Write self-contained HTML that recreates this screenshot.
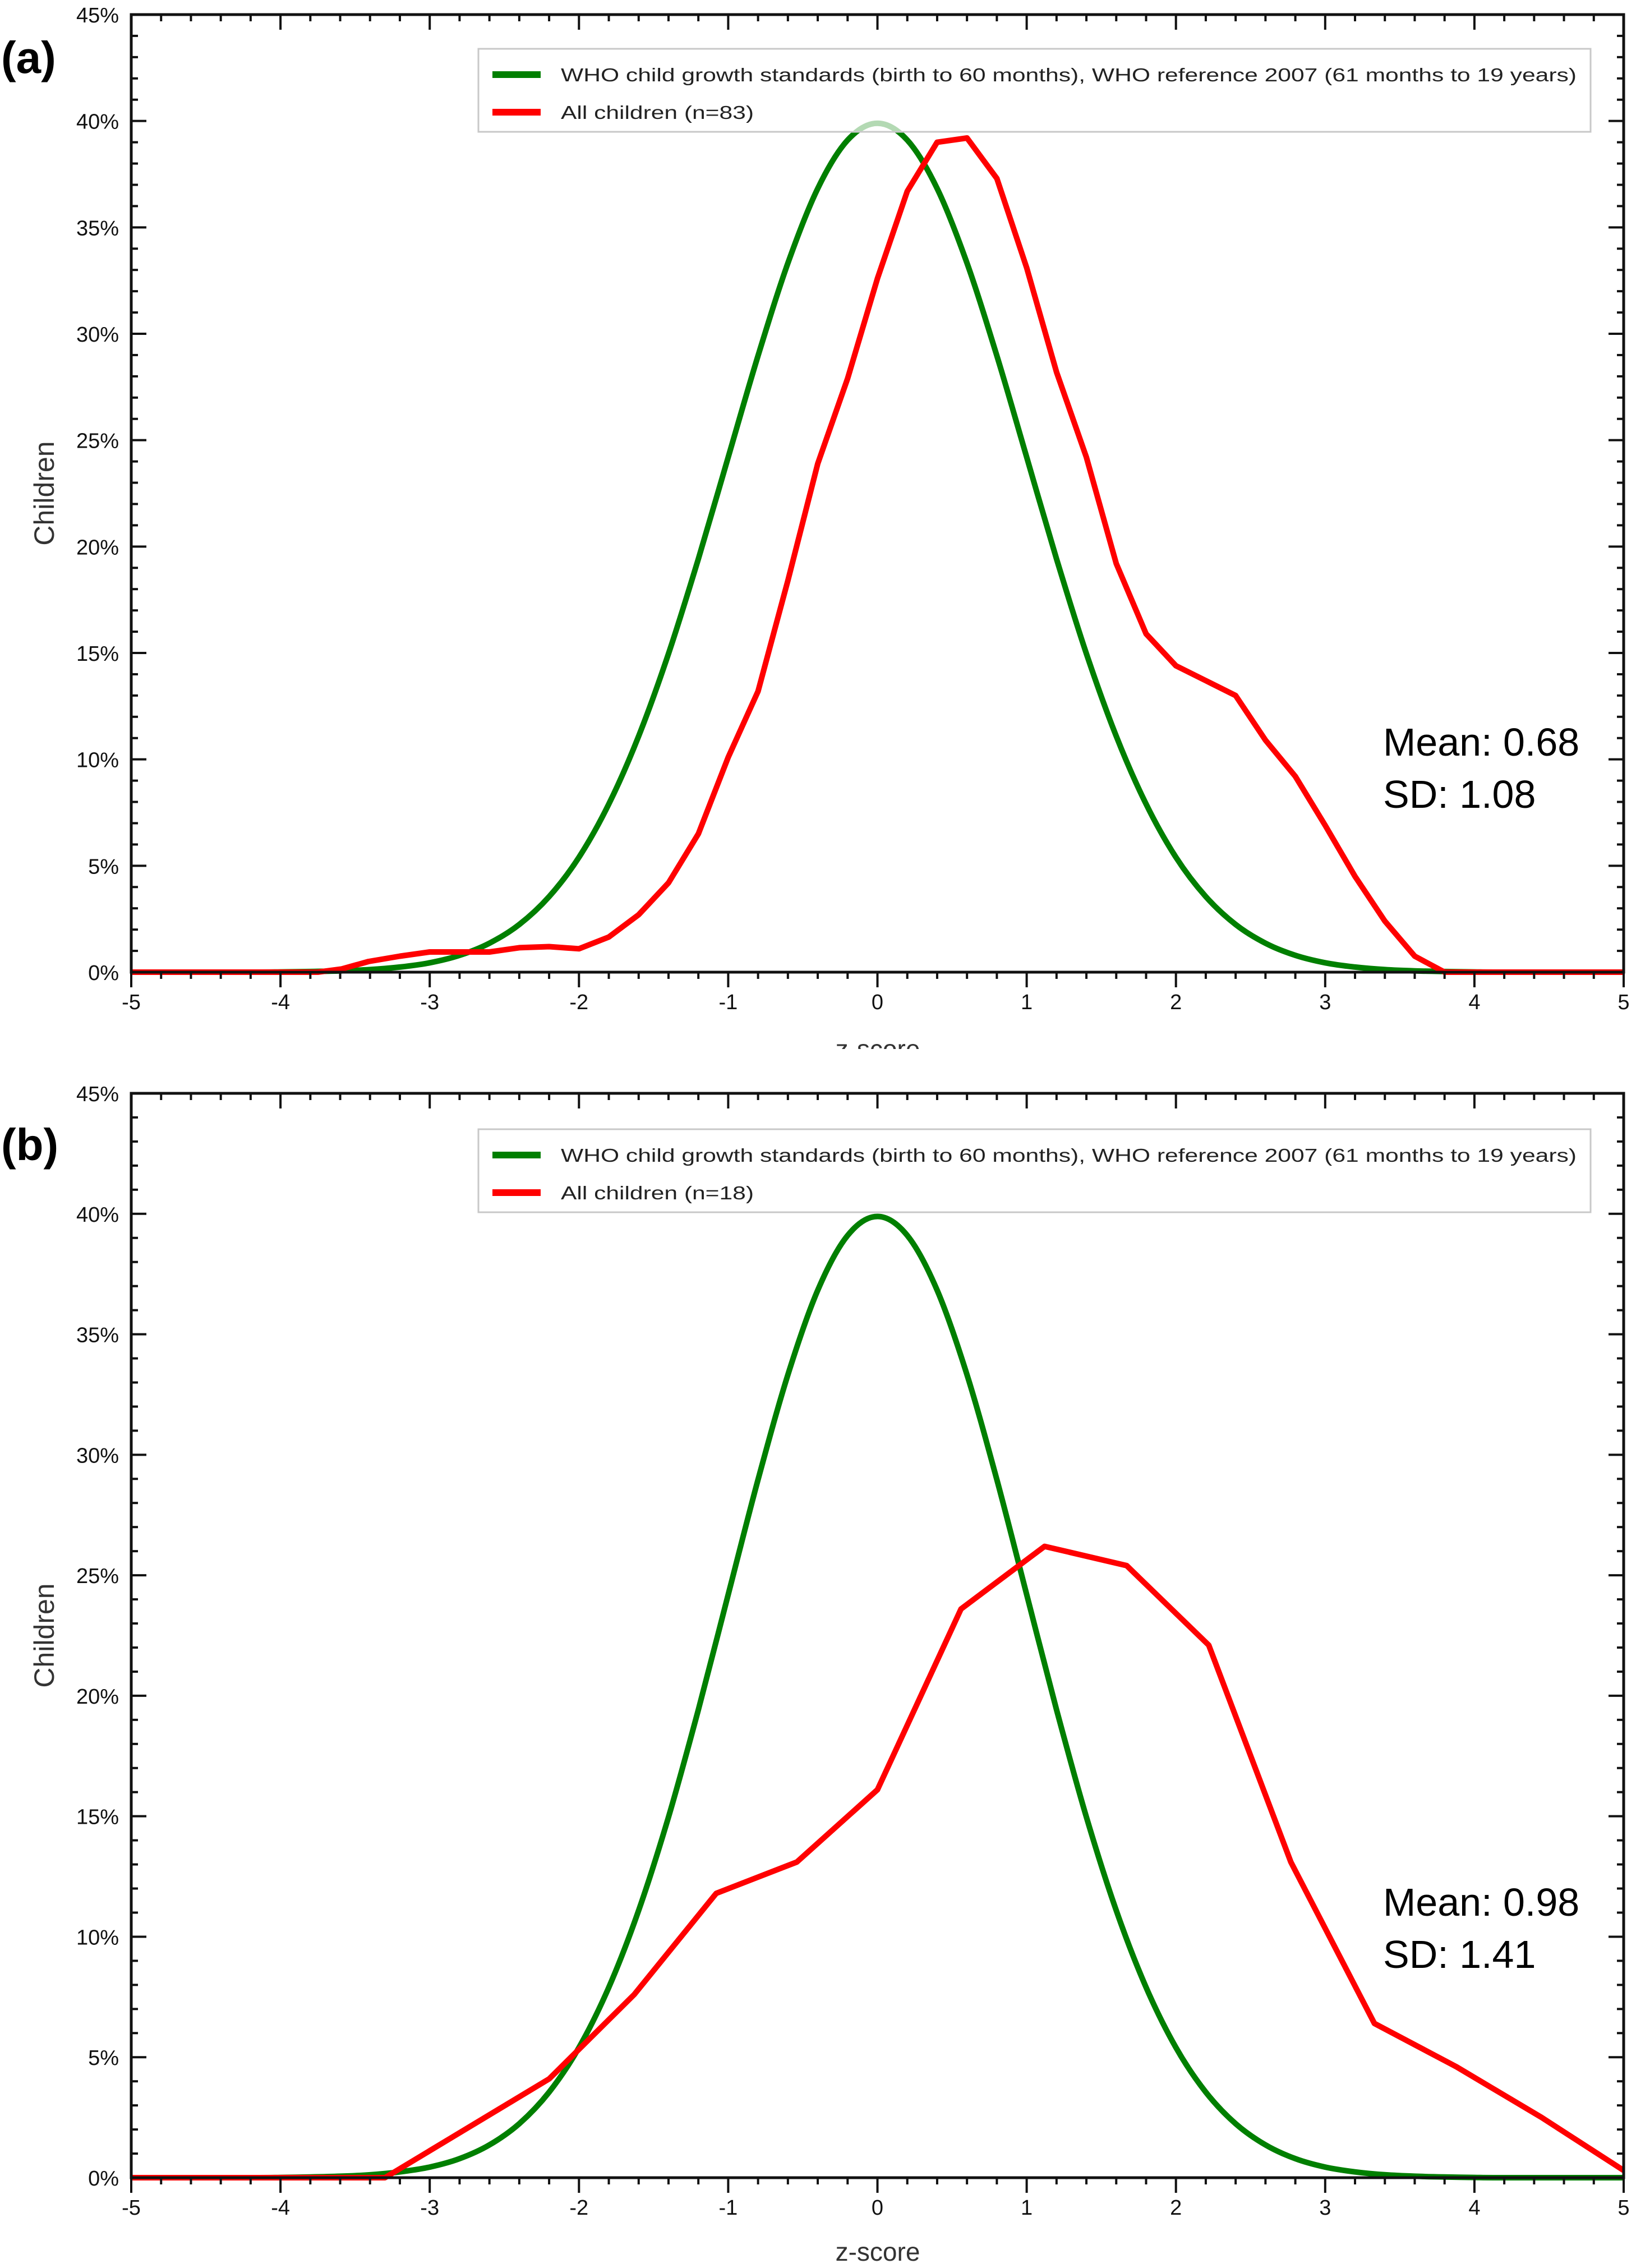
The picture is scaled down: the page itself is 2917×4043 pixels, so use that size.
<!DOCTYPE html>
<html><head><meta charset="utf-8"><style>
html,body{margin:0;padding:0;background:#fff;}
svg{display:block;font-family:"Liberation Sans",Arial,sans-serif;}
</style></head><body>
<svg id="fig" width="2917" height="4043" viewBox="0 0 2917 4043" xmlns="http://www.w3.org/2000/svg">
<rect x="0" y="0" width="2917" height="4043" fill="#fff"/>
</svg>
<script>
// shared data
const xTickLabels = ["-5","-4","-3","-2","-1","0","1","2","3","4","5"];
const yTickLabels = ["0%","5%","10%","15%","20%","25%","30%","35%","40%","45%"];
const whoZ = [-5,-4.2,-4,-3.8,-3.6,-3.4,-3.2,-3,-2.8,-2.6,-2.4,-2.2,-2,-1.8,-1.6,-1.4,-1.2,-1,-0.8,-0.6,-0.4,-0.2,0,0.2,0.4,0.6,0.8,1,1.2,1.4,1.6,1.8,2,2.2,2.4,2.6,2.8,3,3.2,3.4,3.6,3.8,4,4.2,5];
const whoVals = [0,0,0.01,0.03,0.06,0.12,0.24,0.44,0.79,1.36,2.24,3.55,5.40,7.90,11.09,14.97,19.42,24.20,28.97,33.32,36.83,39.10,39.89,39.10,36.83,33.32,28.97,24.20,19.42,14.97,11.09,7.90,5.40,3.55,2.24,1.36,0.79,0.44,0.24,0.12,0.06,0.03,0.01,0,0];
// panel a red series
const redAZ = [-5,-3.75,-3.59,-3.41,-3.2,-3.0,-2.8,-2.6,-2.4,-2.2,-2.0,-1.8,-1.6,-1.4,-1.2,-1.0,-0.8,-0.6,-0.4,-0.2,0,0.2,0.4,0.6,0.8,1.0,1.2,1.4,1.6,1.8,2.0,2.2,2.4,2.6,2.8,3.0,3.2,3.4,3.6,3.8,5];
const redAVals = [0,0,0.15,0.5,0.75,0.95,0.95,0.95,1.15,1.2,1.1,1.65,2.7,4.2,6.5,10.1,13.2,18.4,23.9,27.9,32.6,36.7,39.0,39.2,37.3,33.1,28.2,24.2,19.2,15.9,14.4,13.7,13.0,10.9,9.2,6.9,4.5,2.4,0.75,0,0];
// panel b red series
const redBZ = [-5,-3.3,-2.2,-1.63,-1.08,-0.54,0,0.56,1.12,1.67,2.22,2.77,3.33,3.88,4.45,5.0];
const redBVals = [0,0,4.1,7.6,11.8,13.1,16.1,23.6,26.2,25.4,22.1,13.1,6.4,4.6,2.5,0.3];

const NS="http://www.w3.org/2000/svg";
const svg=document.getElementById('fig');
function el(tag,attrs,parent,txt){const e=document.createElementNS(NS,tag);for(const k in attrs)e.setAttribute(k,attrs[k]);if(txt!==undefined)e.textContent=txt;(parent||svg).appendChild(e);return e;}

function smoothPath(pts){
  let d="M"+pts[0][0].toFixed(1)+","+pts[0][1].toFixed(1);
  for(let i=0;i<pts.length-1;i++){
    const p0=pts[Math.max(0,i-1)],p1=pts[i],p2=pts[i+1],p3=pts[Math.min(pts.length-1,i+2)];
    const t=1/6;
    const c1=[p1[0]+(p2[0]-p0[0])*t,p1[1]+(p2[1]-p0[1])*t];
    const c2=[p2[0]-(p3[0]-p1[0])*t,p2[1]-(p3[1]-p1[1])*t];
    d+=" C"+c1[0].toFixed(1)+","+c1[1].toFixed(1)+" "+c2[0].toFixed(1)+","+c2[1].toFixed(1)+" "+p2[0].toFixed(1)+","+p2[1].toFixed(1);
  }
  return d;
}
function linePath(pts){return pts.map((p,i)=>(i?"L":"M")+p[0].toFixed(1)+","+p[1].toFixed(1)).join(" ");}

function panel(o){
  const g=el('g',{},svg);
  
  
  const L=234,R=2895,T=o.top,B=o.bottom;
  const sx=z=>L+(z+5)/10*(R-L);
  const sy=v=>B-v/45*(B-T);
  const who=el('path',{d:smoothPath(whoZ.map((z,i)=>[sx(z),sy(whoVals[i])])),fill:'none',stroke:'#007f00','stroke-width':10,'stroke-linejoin':'round'},g);
  
  
  const red=el('path',{d:linePath(o.rz.map((z,i)=>[sx(z),sy(o.rv[i])])),fill:'none',stroke:'#ff0000','stroke-width':10,'stroke-linejoin':'round'},g);
  
  
  const fr=el('rect',{x:L,y:T,width:R-L,height:B-T,fill:'none',stroke:'#111','stroke-width':5},g);
  
  
  for(let k=0;k<=50;k++){
    const z=-5+k*0.2, x=sx(z), major=(k%5===0);
    const len=major?27:12;
    el('line',{x1:x,y1:B,x2:x,y2:B+len,stroke:'#111','stroke-width':4},g);
    el('line',{x1:x,y1:T,x2:x,y2:T+len,stroke:'#111','stroke-width':4},g);
  }
  xTickLabels.forEach((t,i)=>{
    const tx=el('text',{x:sx(-5+i),y:B+66,'font-size':38,'text-anchor':'middle',fill:'#111'},g,t);
    
    
  });
  for(let k=0;k<=45;k++){
    const y=sy(k), major=(k%5===0), len=major?27:12;
    el('line',{x1:L,y1:y,x2:L+len,y2:y,stroke:'#111','stroke-width':4},g);
    el('line',{x1:R,y1:y,x2:R-len,y2:y,stroke:'#111','stroke-width':4},g);
  }
  yTickLabels.forEach((t,i)=>{
    const ty=el('text',{x:212,y:sy(i*5)+14,'font-size':38,'text-anchor':'end',fill:'#111'},g,t);
    
    
  });
  const cy=(T+B)/2;
  const yt=el('text',{x:96,y:cy,'font-size':50,'text-anchor':'middle',fill:'#333',transform:'rotate(-90 96 '+cy+')'},g,'Children');
  
  
  const xt=el('text',{x:1565,y:o.xTitleY,'font-size':46,'text-anchor':'middle',fill:'#333'},g,'z-score');
  
  
  const lg=el('g',{},g);
  
  
  const lt=o.legTop;
  el('rect',{x:853,y:lt,width:1983,height:148,fill:'#fff','fill-opacity':0.7,stroke:'#c8c8c8','stroke-width':3},lg);
  el('line',{x1:878,y1:lt+46,x2:964,y2:lt+46,stroke:'#007f00','stroke-width':12},lg);
  el('line',{x1:878,y1:lt+113,x2:964,y2:lt+113,stroke:'#ff0000','stroke-width':12},lg);
  const l1=el('text',{x:1000,y:lt+58,'font-size':33,fill:'#222',textLength:1811,lengthAdjust:'spacingAndGlyphs'},lg,'WHO child growth standards (birth to 60 months), WHO reference 2007 (61 months to 19 years)');
  
  
  const l2=el('text',{x:1000,y:lt+125,'font-size':33,fill:'#222',textLength:o.l2len,lengthAdjust:'spacingAndGlyphs'},lg,o.l2);
  
  
  const s1=el('text',{x:2466,y:o.statY,'font-size':70,fill:'#000'},g,o.mean);
  
  
  const s2=el('text',{x:2466,y:o.statY+93,'font-size':70,fill:'#000'},g,o.sd);
  
  
  const pl=el('text',{x:2,y:o.letterY,'font-size':80,'font-weight':'bold',fill:'#000'},g,'('+o.id+')');
  
  
}
panel({id:'a',top:26,bottom:1733,rz:redAZ,rv:redAVals,xTitleY:1886,legTop:87,l2:'All children (n=83)',l2len:344,statY:1347,mean:'Mean: 0.68',sd:'SD: 1.08',letterY:130});
const cover=el('rect',{x:1300,y:1870,width:600,height:70,fill:'#fff'});


panel({id:'b',top:1949,bottom:3882,rz:redBZ,rv:redBVals,xTitleY:4030,legTop:2013,l2:'All children (n=18)',l2len:344,statY:3415,mean:'Mean: 0.98',sd:'SD: 1.41',letterY:2068});
</script>
</body></html>
